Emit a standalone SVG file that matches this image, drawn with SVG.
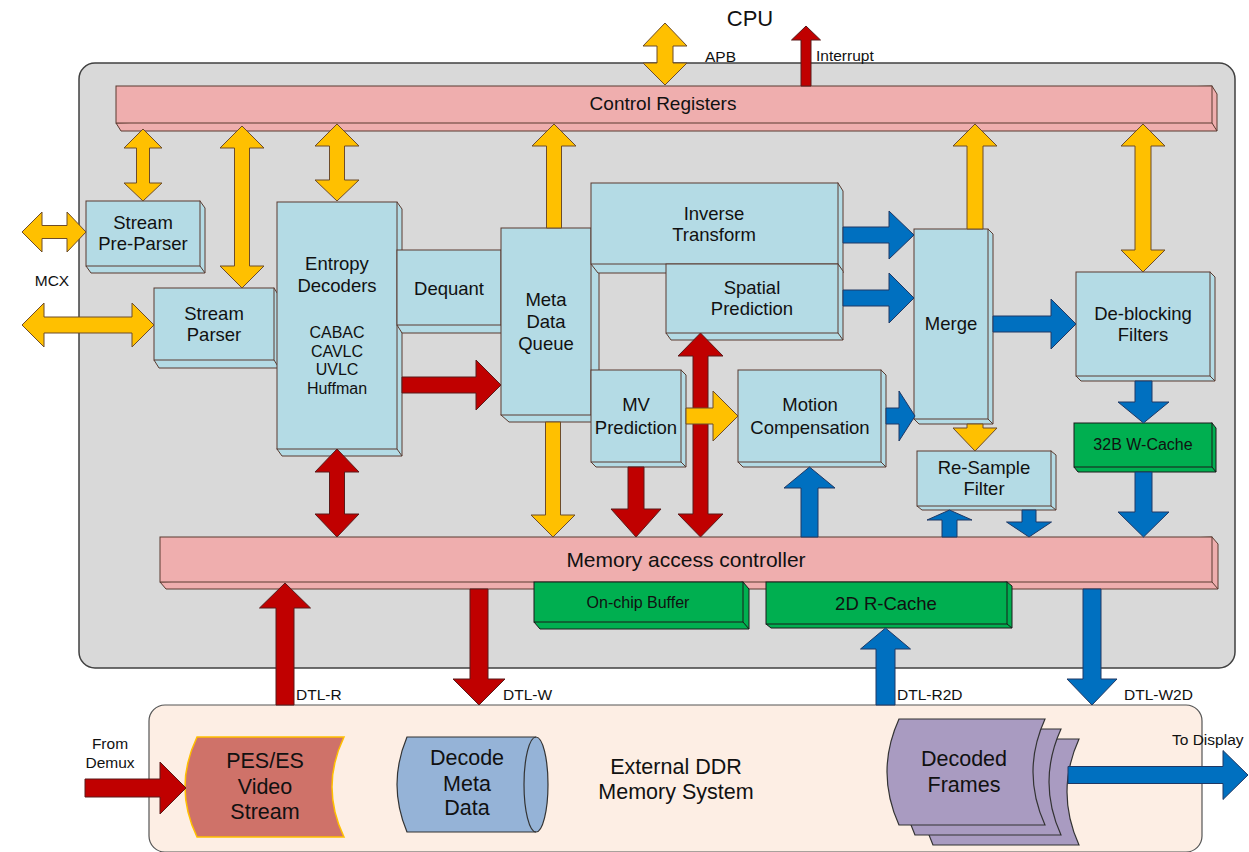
<svg xmlns="http://www.w3.org/2000/svg" width="1249" height="852" viewBox="0 0 1249 852">
<style>
text{font-family:"Liberation Sans",Arial,sans-serif;fill:#111;text-anchor:middle}
.box rect,.box path{fill:#b4dbe5;stroke:#5a3b30;stroke-width:1}
.box line{stroke:#5a3b30;stroke-width:1}
.bar rect,.bar path{fill:#efaeae;stroke:#5a3b30;stroke-width:1}
.bar line{stroke:#5a3b30}
.grn rect,.grn path{fill:#00af50;stroke:#1a1a1a;stroke-width:1}
.grn line{stroke:#1a1a1a}
.t17{font-size:18.5px}
.t15{font-size:16px}
.t14{font-size:16px}
.t13{font-size:15.5px}
.t21{font-size:21.5px}
.l{text-anchor:start}
.ay{fill:#ffc000;stroke:#6d4c2a;stroke-width:1}
.ar{fill:#c00000;stroke:#5a1a1a;stroke-width:1}
.ab{fill:#0070c0;stroke:#203864;stroke-width:1}
</style>

<g id="container">
<rect x="79" y="63" width="1156" height="605" rx="16" fill="#d9d9d9" stroke="#404040" stroke-width="1.5"/>
</g>
<g id="external-ddr">
<rect x="149" y="705" width="1053" height="147" rx="16" fill="#fdeee4" stroke="#555" stroke-width="1.2"/>
<text class="t21" x="676" y="774">External DDR</text>
<text class="t21" x="676" y="799">Memory System</text>
</g>
<text id="cpu" x="750" y="26" style="font-size:22px">CPU</text>

<g id="control-registers" class="bar">
<path d="M1212 86 L1217 94 L1217 131 L121 131 L116 123 Z"/>
<rect x="116" y="86" width="1096" height="37"/>
<line x1="1212" y1="123" x2="1217" y2="131"/>
<text x="663" y="110" style="font-size:19px">Control Registers</text>
</g>

<g id="memory-access-controller" class="bar">
<path d="M1212 537 L1218 544 L1218 589 L166 589 L160 582 Z"/>
<rect x="160" y="537" width="1052" height="45"/>
<line x1="1212" y1="582" x2="1218" y2="589"/>
<text x="686" y="567" style="font-size:21px">Memory access controller</text>
</g>

<g id="on-chip-buffer" class="grn">
<path d="M743 582 L749 589 L749 629 L540 629 L534 622 Z"/>
<rect x="534" y="582" width="209" height="40"/>
<line x1="743" y1="622" x2="749" y2="629"/>
<text class="t14" x="638" y="608">On-chip Buffer</text>
</g>

<g id="r-cache-2d" class="grn">
<path d="M1007 582 L1012 586 L1012 628 L771 628 L766 624 Z"/>
<rect x="766" y="582" width="241" height="42"/>
<line x1="1007" y1="624" x2="1012" y2="628"/>
<text class="t17" x="886" y="610">2D R-Cache</text>
</g>

<g id="stream-pre-parser" class="box">
<path d="M200 201 L205 208 L205 273 L91 273 L86 266 Z"/>
<rect x="86" y="201" width="114" height="65"/>
<line x1="200" y1="266" x2="205" y2="273"/>
<text class="t17" x="143" y="229">Stream</text>
<text class="t17" x="143" y="250">Pre-Parser</text>
</g>

<g id="stream-parser" class="box">
<path d="M274 288 L279 296 L279 368 L159 368 L154 360 Z"/>
<rect x="154" y="288" width="120" height="72"/>
<line x1="274" y1="360" x2="279" y2="368"/>
<text class="t17" x="214" y="320">Stream</text>
<text class="t17" x="214" y="341">Parser</text>
</g>

<g id="entropy-decoders" class="box">
<path d="M397 202 L402 209 L402 456 L282 456 L277 449 Z"/>
<rect x="277" y="202" width="120" height="247"/>
<line x1="397" y1="449" x2="402" y2="456"/>
<text class="t17" x="337" y="270">Entropy</text>
<text class="t17" x="337" y="292">Decoders</text>
<text class="t15" x="337" y="338">CABAC</text>
<text class="t15" x="337" y="357">CAVLC</text>
<text class="t15" x="337" y="375">UVLC</text>
<text class="t15" x="337" y="394">Huffman</text>
</g>

<g id="dequant" class="box">
<path d="M501 250 L506 258 L506 333 L402 333 L397 325 Z"/>
<rect x="397" y="250" width="104" height="75"/>
<line x1="501" y1="325" x2="506" y2="333"/>
<text class="t17" x="449" y="295">Dequant</text>
</g>

<g id="meta-data-queue" class="box">
<path d="M591 228 L599 235 L599 422 L509 422 L501 415 Z"/>
<rect x="501" y="228" width="90" height="187"/>
<line x1="591" y1="415" x2="599" y2="422"/>
<text class="t17" x="546" y="306">Meta</text>
<text class="t17" x="546" y="328">Data</text>
<text class="t17" x="546" y="350">Queue</text>
</g>

<g id="inverse-transform" class="box">
<path d="M838 183 L843 191 L843 273 L598 273 L591 264 Z"/>
<rect x="591" y="183" width="247" height="81"/>
<line x1="838" y1="264" x2="843" y2="273"/>
<text class="t17" x="714" y="220">Inverse</text>
<text class="t17" x="714" y="241">Transform</text>
</g>

<g id="spatial-prediction" class="box">
<path d="M838 264 L843 271 L843 340 L671 340 L666 333 Z"/>
<rect x="666" y="264" width="172" height="69"/>
<line x1="838" y1="333" x2="843" y2="340"/>
<text class="t17" x="752" y="294">Spatial</text>
<text class="t17" x="752" y="315">Prediction</text>
</g>

<g id="mv-prediction" class="box">
<path d="M681 370 L686 375 L686 467 L596 467 L591 462 Z"/>
<rect x="591" y="370" width="90" height="92"/>
<line x1="681" y1="462" x2="686" y2="467"/>
<text class="t17" x="636" y="411">MV</text>
<text class="t17" x="636" y="434">Prediction</text>
</g>

<g id="motion-compensation" class="box">
<path d="M881 370 L886 375 L886 467 L743 467 L738 462 Z"/>
<rect x="738" y="370" width="143" height="92"/>
<line x1="881" y1="462" x2="886" y2="467"/>
<text class="t17" x="810" y="411">Motion</text>
<text class="t17" x="810" y="434">Compensation</text>
</g>

<g id="merge" class="box">
<path d="M988 229 L993 234 L993 424 L919 424 L914 419 Z"/>
<rect x="914" y="229" width="74" height="190"/>
<line x1="988" y1="419" x2="993" y2="424"/>
<text class="t17" x="951" y="330">Merge</text>
</g>

<g id="de-blocking-filters" class="box">
<path d="M1210 272 L1215 277 L1215 381 L1081 381 L1076 376 Z"/>
<rect x="1076" y="272" width="134" height="104"/>
<line x1="1210" y1="376" x2="1215" y2="381"/>
<text class="t17" x="1143" y="320">De-blocking</text>
<text class="t17" x="1143" y="341">Filters</text>
</g>

<g id="re-sample-filter" class="box">
<path d="M1051 451 L1056 455 L1056 510 L922 510 L917 506 Z"/>
<rect x="917" y="451" width="134" height="55"/>
<line x1="1051" y1="506" x2="1056" y2="510"/>
<text class="t17" x="984" y="474">Re-Sample</text>
<text class="t17" x="984" y="495">Filter</text>
</g>

<g id="w-cache-32b" class="grn">
<path d="M1212 423 L1216 428 L1216 472 L1078 472 L1074 467 Z"/>
<rect x="1074" y="423" width="138" height="44"/>
<line x1="1212" y1="467" x2="1216" y2="472"/>
<text class="t14" x="1143" y="450">32B W-Cache</text>
</g>

<g id="pes-es-video-stream">
<path d="M197 737 L344 737 Q320 787 344 837 L197 837 Q173 787 197 737 Z" fill="#cf7269" stroke="#ffc000" stroke-width="1.5"/>
<text class="t21" x="265" y="768">PES/ES</text>
<text class="t21" x="265" y="794">Video</text>
<text class="t21" x="265" y="819">Stream</text>
</g>

<g id="decode-meta-data">
<path d="M407 737 L536 737 A12 47.5 0 0 1 536 832 L407 832 Q387 784.5 407 737 Z" fill="#95b3d7" stroke="#333" stroke-width="1.2"/>
<path d="M536 737 A12 47.5 0 0 0 536 832" fill="none" stroke="#333" stroke-width="1.2"/>
<text class="t21" x="467" y="765">Decode</text>
<text class="t21" x="467" y="791">Meta</text>
<text class="t21" x="467" y="815">Data</text>
</g>

<g id="decoded-frames" fill="#a99bc1" stroke="#333" stroke-width="1.2">
<path d="M933 739 L1079 739 Q1055 792 1079 845 L933 845 Q909 792 933 739 Z"/>
<path d="M915 729 L1061 729 Q1037 782 1061 835 L915 835 Q891 782 915 729 Z"/>
<path d="M899 719 L1045 719 Q1021 772 1045 825 L899 825 Q875 772 899 719 Z"/>
<text class="t21" x="964" y="766" stroke="none">Decoded</text>
<text class="t21" x="964" y="792" stroke="none">Frames</text>
</g>

<g id="connectors">
<polygon class="ay" points="665,23 687,46 673,46 673,63 687,63 665,85 643,63 657,63 657,46 643,46"/>
<polygon class="ay" points="143,129 162,148 149.5,148 149.5,183 162,183 143,201 124,183 136.5,183 136.5,148 124,148"/>
<polygon class="ay" points="242,126 264,148 249.5,148 249.5,266 264,266 242,288 220,266 234.5,266 234.5,148 220,148"/>
<polygon class="ay" points="337,124 359,146 344.5,146 344.5,180 359,180 337,201 315,180 329.5,180 329.5,146 315,146"/>
<polygon class="ay" points="554,124 576,146 561.5,146 561.5,228 546.5,228 546.5,146 532,146"/>
<polygon class="ay" points="975,124 997,146 983,146 983,229 967,229 967,146 953,146"/>
<polygon class="ay" points="1143,124 1165,146 1151,146 1151,250 1165,250 1143,272 1121,250 1135,250 1135,146 1121,146"/>
<polygon class="ay" points="22,232 42,212 42,225.5 67,225.5 67,212 86,232 67,252 67,238.5 42,238.5 42,252"/>
<polygon class="ay" points="22,325 44,303 44,317 132,317 132,303 154,325 132,347 132,333 44,333 44,347"/>
<polygon class="ay" points="553,537 531,515 545.5,515 545.5,422 560.5,422 560.5,515 575,515"/>
<polygon class="ay" points="975,451 953,428 967,428 967,424 983,424 983,428 997,428"/>
<polygon class="ar" points="806,26 820.5,40 811,40 811,86 801,86 801,40 791.5,40"/>
<polygon class="ar" points="402,377 476,377 476,360 501,385 476,410 476,393 402,393"/>
<polygon class="ar" points="337,449 359,472 344.5,472 344.5,514 359,514 337,537 315,514 329.5,514 329.5,472 315,472"/>
<polygon class="ar" points="636,537 611,509 628,509 628,467 644,467 644,509 661,509"/>
<polygon class="ar" points="700.5,333 723,356 708,356 708,514 723,514 700.5,537 678,514 693,514 693,356 678,356"/>
<polygon class="ar" points="285,583 310.5,608 294,608 294,705 276,705 276,608 259.5,608"/>
<polygon class="ar" points="479,705 453,679 470,679 470,589 488,589 488,679 505,679"/>
<polygon class="ar" points="85,779 160,779 160,762 186,788 160,814 160,797 85,797"/>
<polygon class="ay" points="686,408 713,408 713,391 738,416 713,441 713,424 686,424"/>
<polygon class="ab" points="843,227 889,227 889,211 914,235 889,259 889,243 843,243"/>
<polygon class="ab" points="843,290 889,290 889,273 914,298 889,323 889,306 843,306"/>
<polygon class="ab" points="886,408 899,408 899,391 915,416 899,441 899,424 886,424"/>
<polygon class="ab" points="993,316 1051,316 1051,299 1076,324 1051,349 1051,332 993,332"/>
<polygon class="ab" points="1143.5,423 1118,402 1135,402 1135,381 1152,381 1152,402 1169,402"/>
<polygon class="ab" points="1143.5,537 1118,512 1135,512 1135,472 1152,472 1152,512 1169,512"/>
<polygon class="ab" points="809.5,467 835,488 818,488 818,537 801,537 801,488 784,488"/>
<polygon class="ab" points="949.5,510 972,520 957,520 957,537 942,537 942,520 927,520"/>
<polygon class="ab" points="1029,537 1006.5,522 1022,522 1022,510 1036,510 1036,522 1051.5,522"/>
<polygon class="ab" points="885.5,628 910.5,649 895,649 895,705 876,705 876,649 860.5,649"/>
<polygon class="ab" points="1092,705 1067,679 1083,679 1083,589 1101,589 1101,679 1117,679"/>
<polygon class="ab" points="1068,766.5 1223,766.5 1223,750.5 1248,775 1223,799.5 1223,783.5 1068,783.5"/>
</g>

<g id="labels">
<text class="t13 l" x="705" y="62">APB</text>
<text class="t13 l" x="816" y="61">Interrupt</text>
<text class="t13" x="52" y="286">MCX</text>
<text class="t13 l" x="296" y="700">DTL-R</text>
<text class="t13 l" x="503" y="700">DTL-W</text>
<text class="t13 l" x="897" y="700">DTL-R2D</text>
<text class="t13 l" x="1124" y="700">DTL-W2D</text>
<text class="t13" x="110" y="749">From</text>
<text class="t13" x="110" y="768">Demux</text>
<text class="t13 l" x="1172" y="745">To Display</text>
</g>
</svg>
